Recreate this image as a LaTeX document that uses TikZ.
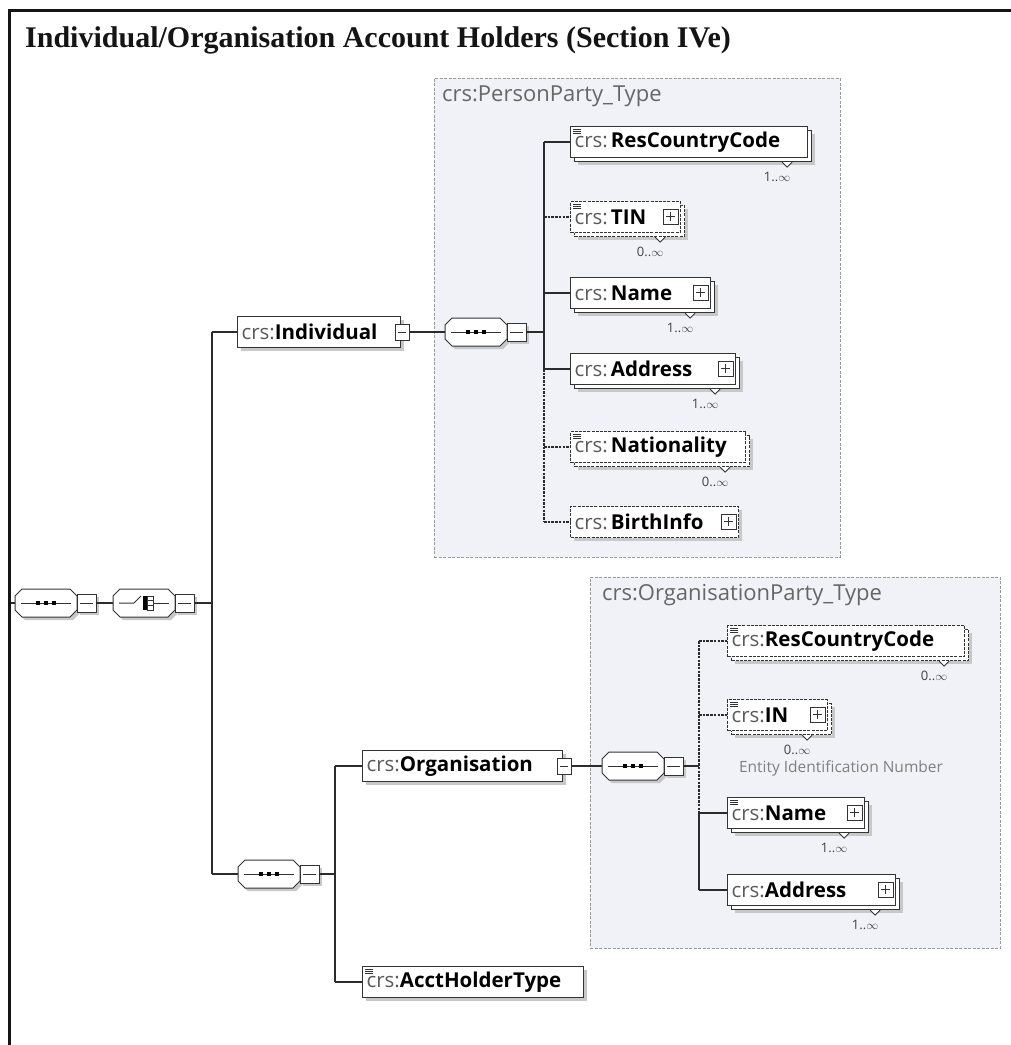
\documentclass[tikz,border=0pt]{standalone}
\usepackage{fontspec}
\setmainfont{Liberation Serif}
\newfontfamily\uifont{Open Sans}
\usetikzlibrary{calc,shadows}

\definecolor{linec}{HTML}{2B2B2B}
\definecolor{boxc}{HTML}{333333}
\definecolor{shadowc}{HTML}{C8C8C8}
\definecolor{groupfill}{HTML}{F1F2F8}
\definecolor{groupdraw}{HTML}{9A9A9A}
\definecolor{crsc}{HTML}{5A5A5A}
\definecolor{framec}{HTML}{151515}
\definecolor{descc}{HTML}{808080}

% element captions: grey prefix, bold local name
\newcommand\crsname[1]{{\color{crsc}crs:}\textbf{#1}}
\newcommand\pcrsname[1]{{\color{crsc}crs:}\hspace{3pt}\textbf{#1}}

% collapsed / expanded toggles and decorations of element boxes
\newcommand\plusbox[1]{%
  \draw[iconline, fill=white] ($(#1.east)+(-18,-8)$) rectangle ($(#1.east)+(-3,7)$);
  \draw[iconline] ($(#1.east)+(-15,-0.5)$) -- ($(#1.east)+(-6,-0.5)$)
                  ($(#1.east)+(-10.5,-5)$) -- ($(#1.east)+(-10.5,4)$);}
\newcommand\minusbox[1]{%
  \draw[iconline, fill=white] ($(#1.east)+(-6,-8)$) rectangle ($(#1.east)+(8,8)$);
  \draw[iconline] ($(#1.east)+(-3,0)$) -- ($(#1.east)+(5,0)$);}
\newcommand\simpleicon[1]{%
  \foreach \k in {0,2.2,4.4}
    \draw[line width=.7pt, boxc] ($(#1.north west)+(3,3+\k)$) -- ++(8,0);}
\newcommand\occurs[2]{%
  \draw[iconline, fill=white] ($(#1.south east)+(-26,4)$) -- ++(5,5) -- ++(5,-5);
  \node[multtext] (#1-occ) at ($(#1.south east)+(-31,19)$) {#2};}

\tikzset{
  conn/.style={draw=linec, line width=1.3pt},
  optline/.style={dash pattern=on 2.5pt off 1.2pt},
  iconline/.style={draw=boxc, line width=.9pt},
  symline/.style={draw=boxc, line width=1pt},
  elem/.style={draw=boxc, fill=white, line width=1.1pt, anchor=west,
    minimum height=31pt, inner xsep=4pt, inner ysep=0pt, align=left,
    text width=#1pt, font=\uifont\fontsize{20.5}{24}\selectfont, text=black},
  single/.style={drop shadow={shadow xshift=3pt, shadow yshift=-3pt,
    fill=shadowc, opacity=1}},
  multi/.style={drop shadow={shadow xshift=7pt, shadow yshift=-7pt,
    fill=shadowc, opacity=1},
    copy shadow={shadow xshift=4pt, shadow yshift=-4pt, fill=white,
    draw=boxc, line width=1.1pt}},
  optional/.style={dash pattern=on 3pt off 1.2pt},
  multtext/.style={font=\uifont\fontsize{13}{15}\selectfont, text=black!75,
    inner sep=0pt},
  groupbox/.style={draw=groupdraw, fill=groupfill, line width=.9pt,
    dash pattern=on 3pt off 1.5pt, anchor=north west, inner sep=0pt},
  grouplabel/.style={anchor=west, font=\uifont\fontsize{22}{26}\selectfont,
    text=black!60, inner sep=0pt},
  % sequence compositor
  seqsym/.pic={
    \begin{scope}[shift={(3,3)}]
      \fill[shadowc] (-31,-7) -- (-24,-14) -- (24,-14) -- (31,-7) -- (31,7)
        -- (24,14) -- (-24,14) -- (-31,7) -- cycle;
      \fill[shadowc] (31,-9) rectangle (50,9);
    \end{scope}
    \draw[symline, fill=white] (-31,-7) -- (-24,-14) -- (24,-14) -- (31,-7)
      -- (31,7) -- (24,14) -- (-24,14) -- (-31,7) -- cycle;
    \draw[symline, fill=white] (31,-9) rectangle (50,9);
    \draw[symline] (34,0) -- (47,0);
    \draw[symline] (-25,0) -- (25,0);
    \foreach \d in {-8,0,8} \fill[black] (\d-2.3,-2.3) rectangle (\d+2.3,2.3);
    \coordinate (-w) at (-31,0);
    \coordinate (-e) at (50,0);
  },
  % choice compositor
  choicesym/.pic={
    \begin{scope}[shift={(3,3)}]
      \fill[shadowc] (-31,-7) -- (-24,-14) -- (24,-14) -- (31,-7) -- (31,7)
        -- (24,14) -- (-24,14) -- (-31,7) -- cycle;
      \fill[shadowc] (31,-9) rectangle (50,9);
    \end{scope}
    \draw[symline, fill=white] (-31,-7) -- (-24,-14) -- (24,-14) -- (31,-7)
      -- (31,7) -- (24,14) -- (-24,14) -- (-31,7) -- cycle;
    \draw[symline, fill=white] (31,-9) rectangle (50,9);
    \draw[symline] (34,0) -- (47,0);
    \draw[symline] (-25,0) -- (-10,0) -- (-3,-7);
    \fill[black] (-1,-7) rectangle (3,7);
    \draw[symline] (3,-7) rectangle (9,7) (3,-2.3) -- (9,-2.3) (3,2.3) -- (9,2.3);
    \draw[symline] (9,0) -- (25,0);
    \coordinate (-w) at (-31,0);
    \coordinate (-e) at (50,0);
  }
}

\begin{document}
\begin{tikzpicture}[x=1pt, y=-1pt]
\useasboundingbox (0,0) rectangle (1011,1045);
\fill[white] (0,0) rectangle (1011,1045);

% page frame and heading
\draw[line width=3pt, framec] (9,1045) -- (9,10) -- (1011,10);
\node[anchor=base west, inner sep=0pt, font=\bfseries\fontsize{30}{36}\selectfont, text=black!92]
  (title) at (25,47) {Individual/Organisation Account Holders (Section IVe)};

% complex type groups
\node[groupbox, minimum width=406pt, minimum height=479pt] (ppgrp) at (434,78) {};
\node[grouplabel] (pplabel) at (442,96) {crs:PersonParty\_Type};
\node[groupbox, minimum width=410pt, minimum height=371pt] (opgrp) at (590,577) {};
\node[grouplabel] (oplabel) at (602,595) {crs:OrganisationParty\_Type};

% bar positions of the tree
\coordinate (bar1) at (212,0);
\coordinate (bar2) at (544,0);
\coordinate (bar3) at (335,0);
\coordinate (bar4) at (699,0);
\coordinate (start) at (11,603);

% compositors
\pic (seq1) at (46,603) {seqsym};
\pic (choice) at (144,603) {choicesym};
\pic (seq2) at (476,332) {seqsym};
\pic (seq3) at (269,874) {seqsym};
\pic (seq4) at (633,766) {seqsym};

% individual branch
\node[elem=155, single] (indiv) at (237,332) {\crsname{Individual}};
\node[elem=229, multi] (rcc1) at (570,142) {\pcrsname{ResCountryCode}};
\node[elem=102, multi, optional] (tin) at (570,217) {\pcrsname{TIN}};
\node[elem=132, multi] (name1) at (570,293) {\pcrsname{Name}};
\node[elem=157, multi] (addr1) at (570,369) {\pcrsname{Address}};
\node[elem=167, multi, optional] (nat) at (570,447) {\pcrsname{Nationality}};
\node[elem=160, single, optional] (birth) at (570,522) {\pcrsname{BirthInfo}};

% organisation branch
\node[elem=192, single] (org) at (362,766) {\crsname{Organisation}};
\node[elem=213, single] (accttype) at (362,982) {\crsname{AcctHolderType}};
\node[elem=229, multi, optional] (rcc2) at (727,641) {\crsname{ResCountryCode}};
\node[elem=92, multi, optional] (inum) at (727,715) {\crsname{IN}};
\node[elem=129, multi] (name2) at (727,813) {\crsname{Name}};
\node[elem=160, multi] (addr2) at (727,890) {\crsname{Address}};
\node[font=\uifont\fontsize{15.5}{18}\selectfont, text=descc, inner sep=0pt]
  (indesc) at (841,768) {Entity Identification Number};

% connectors
\draw[conn] (start) -- (seq1-w);
\draw[conn] (seq1-e) -- (choice-w);
\draw[conn] (choice-e) -- (choice-e -| bar1);
\draw[conn] (indiv.west -| bar1) -- (seq3-w -| bar1);
\draw[conn] (indiv.west -| bar1) -- (indiv.west);
\draw[conn] (seq3-w -| bar1) -- (seq3-w);
\draw[conn] (indiv.east) -- (seq2-w);
\draw[conn] (seq2-e) -- (seq2-e -| bar2);
\draw[conn] (rcc1.west -| bar2) -- (addr1.west -| bar2);
\draw[conn, optline] (addr1.west -| bar2) -- (birth.west -| bar2);
\draw[conn] (rcc1.west -| bar2) -- (rcc1.west);
\draw[conn, optline] (tin.west -| bar2) -- (tin.west);
\draw[conn] (name1.west -| bar2) -- (name1.west);
\draw[conn] (addr1.west -| bar2) -- (addr1.west);
\draw[conn, optline] (nat.west -| bar2) -- (nat.west);
\draw[conn, optline] (birth.west -| bar2) -- (birth.west);
\draw[conn] (seq3-e) -- (seq3-e -| bar3);
\draw[conn] (org.west -| bar3) -- (accttype.west -| bar3);
\draw[conn] (org.west -| bar3) -- (org.west);
\draw[conn] (accttype.west -| bar3) -- (accttype.west);
\draw[conn] (org.east) -- (seq4-w);
\draw[conn] (seq4-e) -- (seq4-e -| bar4);
\draw[conn, optline] (rcc2.west -| bar4) -- (name2.west -| bar4);
\draw[conn] (name2.west -| bar4) -- (addr2.west -| bar4);
\draw[conn, optline] (rcc2.west -| bar4) -- (rcc2.west);
\draw[conn, optline] (inum.west -| bar4) -- (inum.west);
\draw[conn] (name2.west -| bar4) -- (name2.west);
\draw[conn] (addr2.west -| bar4) -- (addr2.west);

% element decorations
\minusbox{indiv}
\minusbox{org}
\plusbox{tin}
\plusbox{name1}
\plusbox{addr1}
\plusbox{birth}
\plusbox{inum}
\plusbox{name2}
\plusbox{addr2}
\simpleicon{rcc1}
\simpleicon{tin}
\simpleicon{nat}
\simpleicon{rcc2}
\simpleicon{inum}
\simpleicon{name2}
\simpleicon{accttype}
\occurs{rcc1}{1..$\infty$}
\occurs{tin}{0..$\infty$}
\occurs{name1}{1..$\infty$}
\occurs{addr1}{1..$\infty$}
\occurs{nat}{0..$\infty$}
\occurs{rcc2}{0..$\infty$}
\occurs{inum}{0..$\infty$}
\occurs{name2}{1..$\infty$}
\occurs{addr2}{1..$\infty$}
\end{tikzpicture}
\end{document}
